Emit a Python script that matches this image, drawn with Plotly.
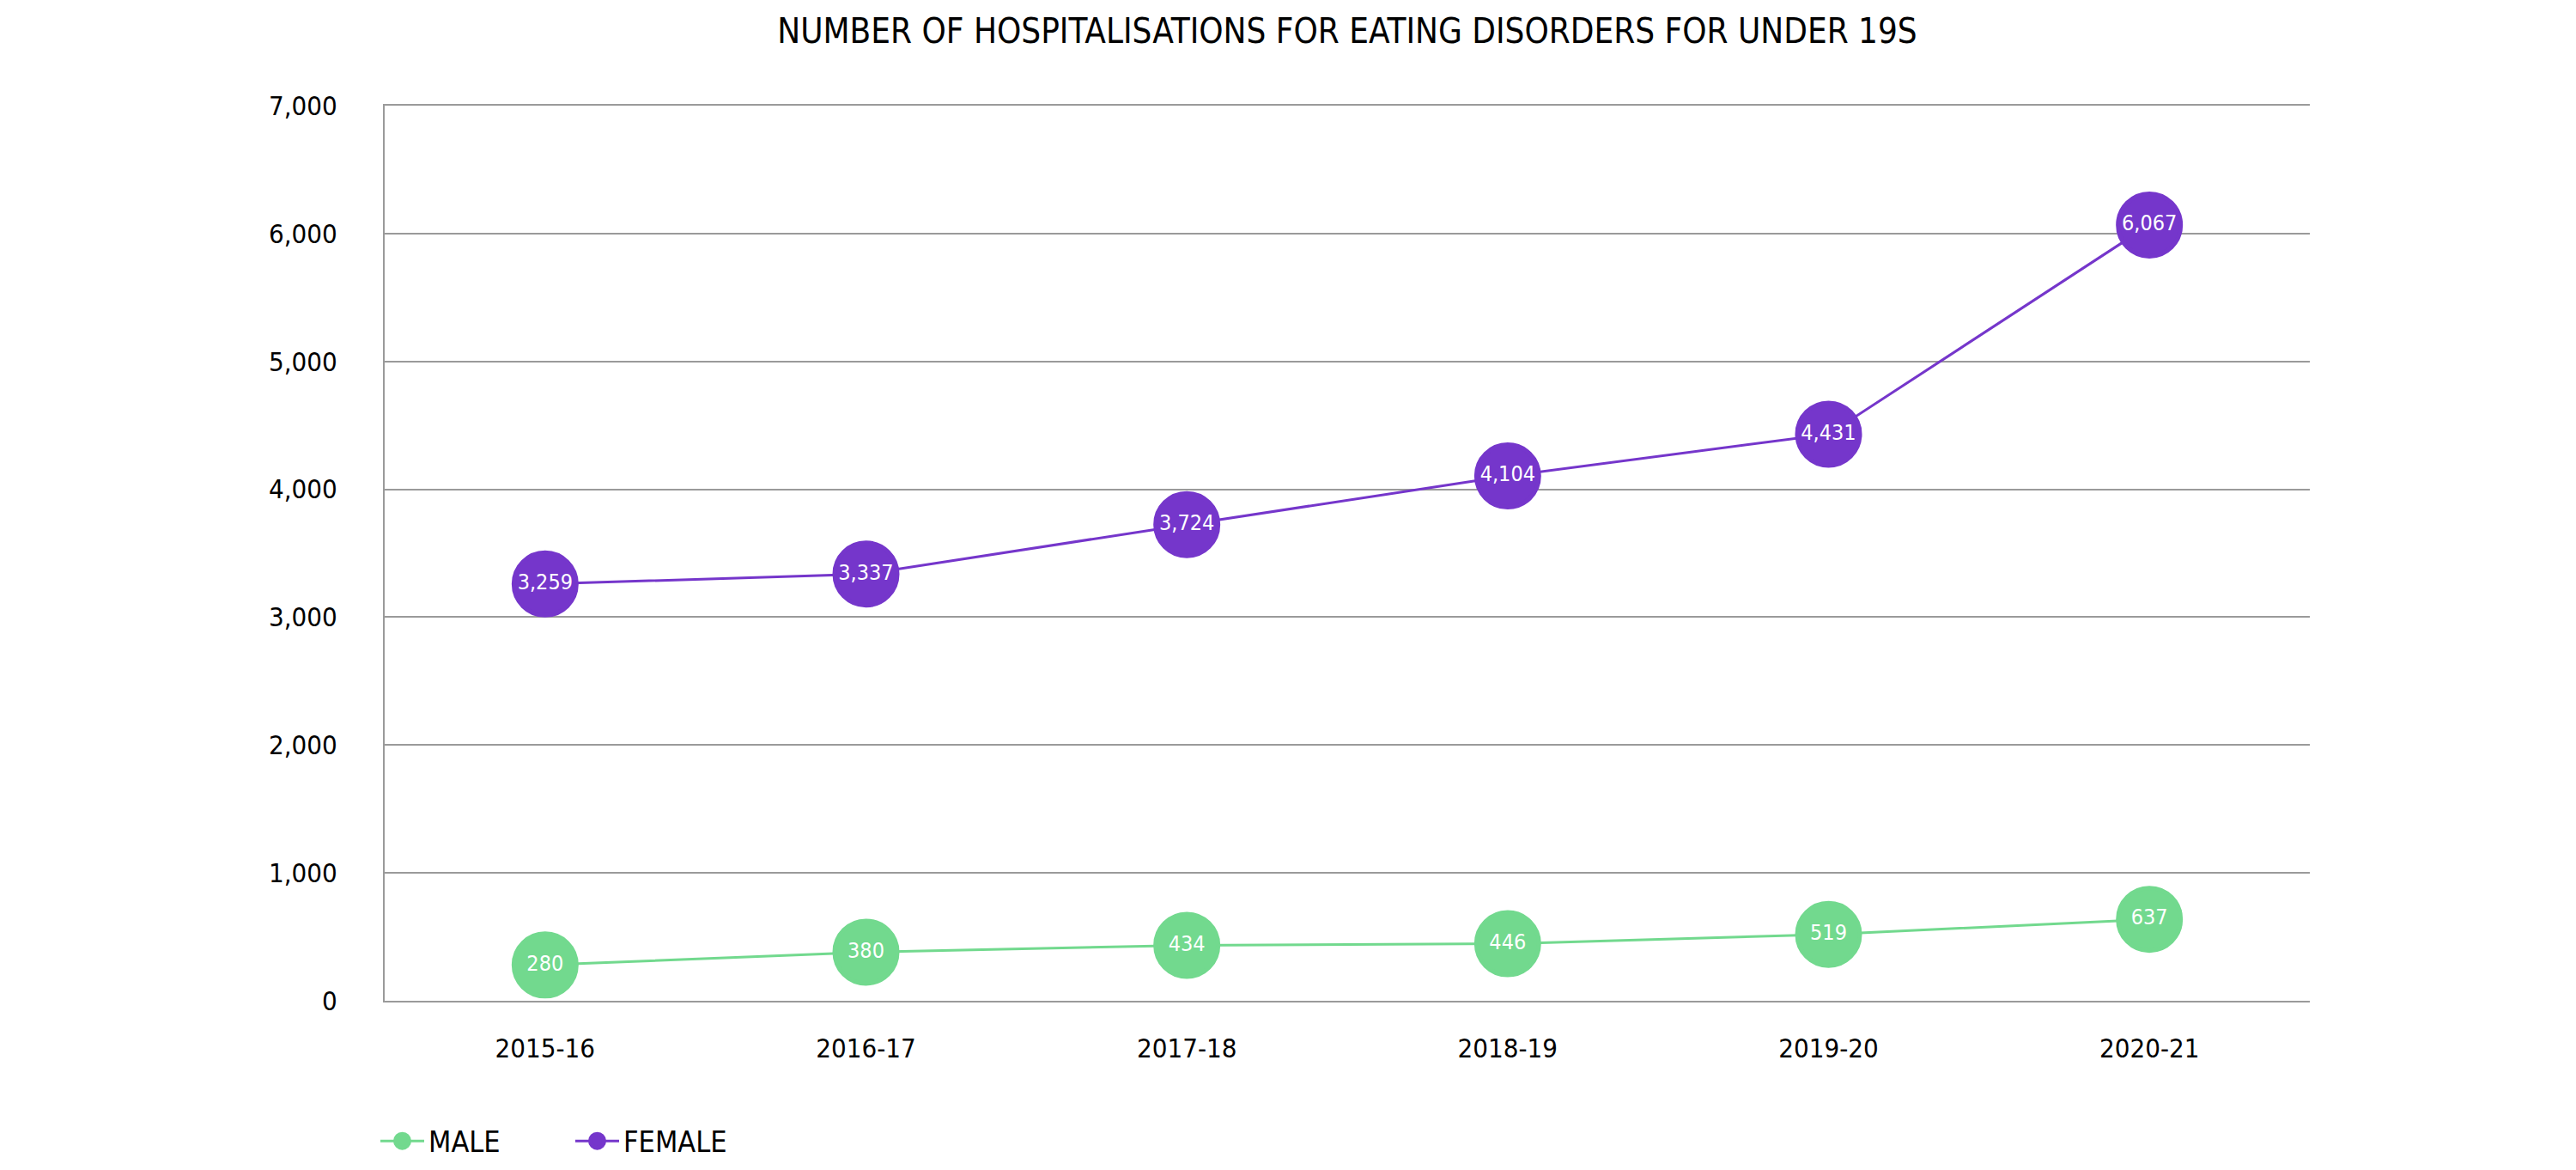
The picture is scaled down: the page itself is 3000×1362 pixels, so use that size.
import plotly.graph_objects as go

years = ["2015-16", "2016-17", "2017-18", "2018-19", "2019-20", "2020-21"]
male = [280, 380, 434, 446, 519, 637]
female = [3259, 3337, 3724, 4104, 4431, 6067]
y_ticks = [0, 1000, 2000, 3000, 4000, 5000, 6000, 7000]

FONT = "DejaVu Sans Condensed, Liberation Sans Narrow, sans-serif"
GREEN = "#72D98E"
PURPLE = "#7536CB"
GRID = "#9a9a9a"

fig = go.Figure()
for name, vals, col in [("MALE", male, GREEN), ("FEMALE", female, PURPLE)]:
    fig.add_trace(go.Scatter(
        x=years, y=vals, name=name, mode="lines+markers+text",
        line=dict(color=col, width=3),
        marker=dict(color=col, size=73, line=dict(width=5, color=col)),
        text=[f"{v:,}" for v in vals], textposition="middle center",
        textfont=dict(color="white", size=25, family=FONT),
        cliponaxis=False,
    ))

fig.update_layout(
    width=3000, height=1362,
    margin=dict(l=440, r=318, t=115, b=191),
    paper_bgcolor="white", plot_bgcolor="white",
    font=dict(family=FONT, color="black", size=31),
    title=dict(text="NUMBER OF HOSPITALISATIONS FOR EATING DISORDERS FOR UNDER 19S",
               x=(440 + 2682) / 2 / 3000, xanchor="center", y=1 - 28 / 1362, yanchor="middle",
               font=dict(size=40, family=FONT, color="black")),
    showlegend=True,
    legend=dict(orientation="h", x=-10 / 2242, xanchor="left", y=-0.157, yanchor="middle",
                font=dict(size=34, family=FONT), itemwidth=51,
                entrywidth=161, entrywidthmode="pixels"),
)
fig.update_xaxes(type="category", range=[-0.5, 5.5], showgrid=False,
                 showline=True, mirror=True, linecolor=GRID, linewidth=2,
                 ticks="", tickfont=dict(size=31), ticklabelstandoff=27, zeroline=False)
fig.update_yaxes(range=[0, 7000], tickvals=y_ticks, tickformat=",", showgrid=True,
                 gridcolor=GRID, gridwidth=2, showline=True, linecolor=GRID,
                 linewidth=2, zeroline=False,
                 ticks="", tickfont=dict(size=31), ticklabelstandoff=47)

fig.write_html("out.html")
